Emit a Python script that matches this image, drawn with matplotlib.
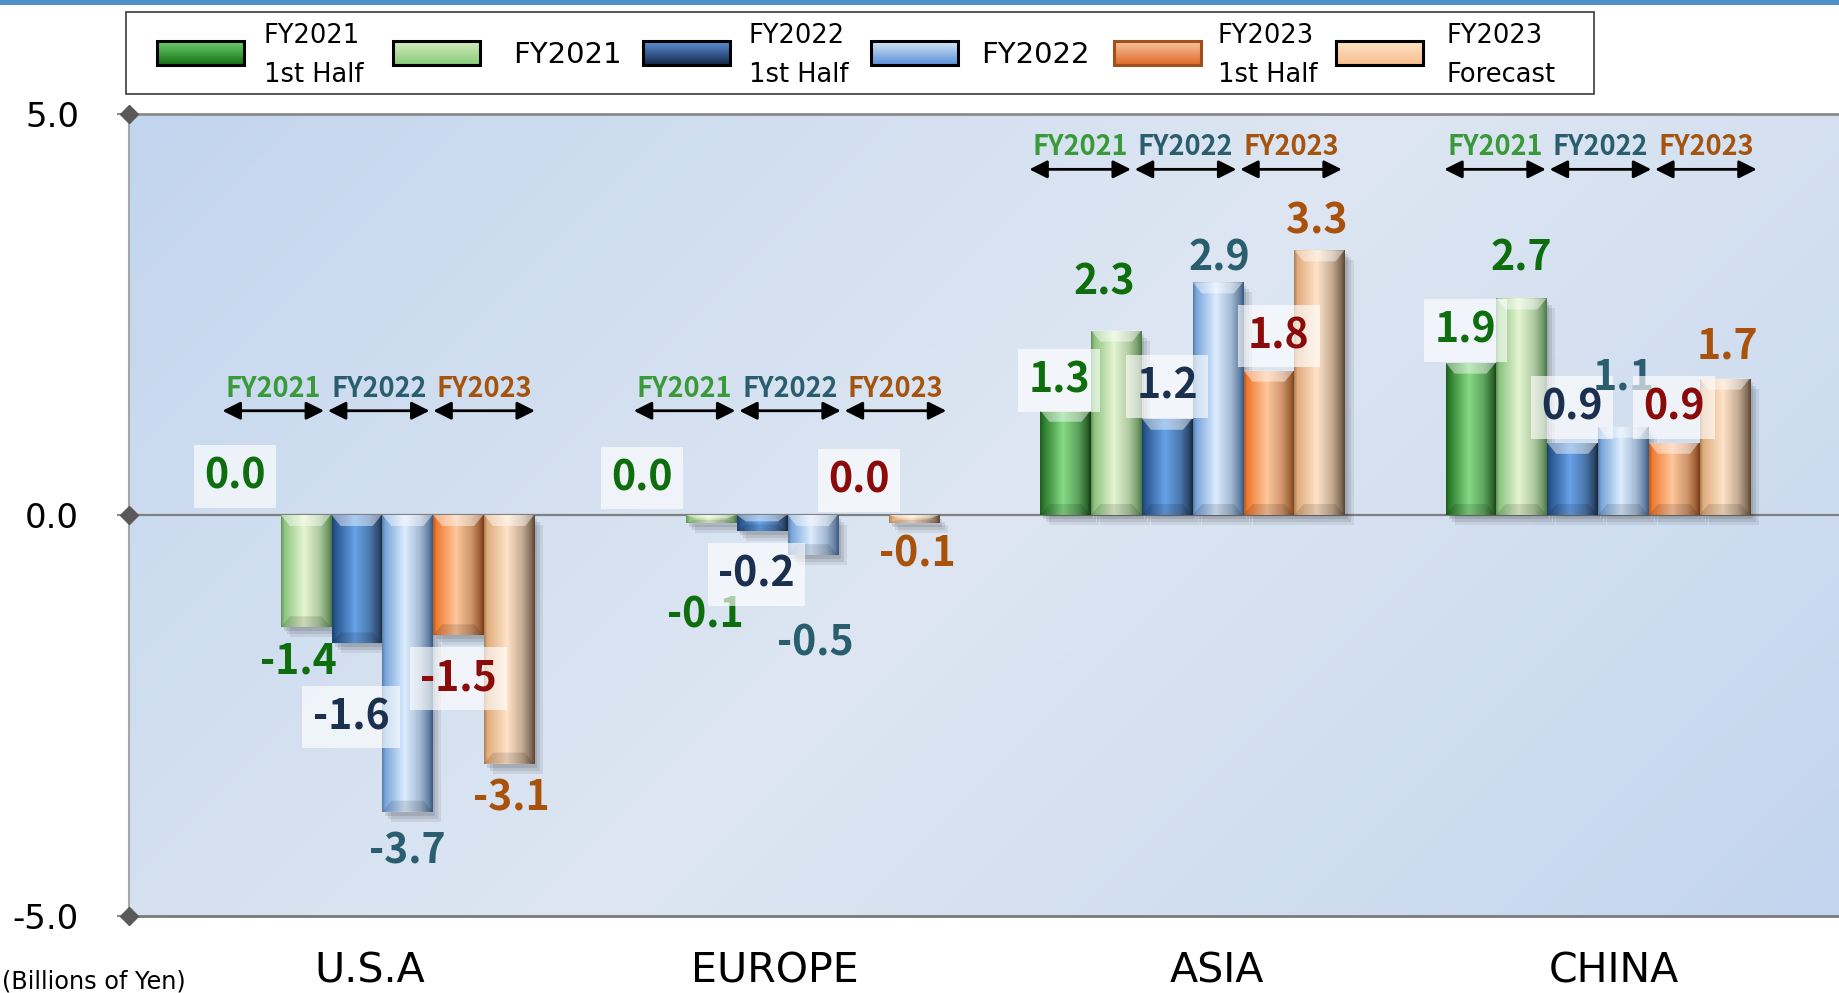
import numpy as np
import matplotlib
matplotlib.use("Agg")
import matplotlib.pyplot as plt
import matplotlib.transforms as mtransforms
from matplotlib.colors import to_rgb
from matplotlib.patches import Rectangle, Polygon, FancyArrowPatch

# ---------------- data (billions of yen) ----------------
regions = ["U.S.A", "EUROPE", "ASIA", "CHINA"]
fy2021_h1 = [0.0, 0.0, 1.3, 1.9]
fy2021_full = [-1.4, -0.1, 2.3, 2.7]
fy2022_h1 = [-1.6, -0.2, 1.2, 0.9]
fy2022_full = [-3.7, -0.5, 2.9, 1.1]
fy2023_h1 = [-1.5, 0.0, 1.8, 0.9]
fy2023_forecast = [-3.1, -0.1, 3.3, 1.7]
series_labels = ["FY2021\n1st Half", "FY2021", "FY2022\n1st Half",
                 "FY2022", "FY2023\n1st Half", "FY2023\nForecast"]
year_tags = ["FY2021", "FY2022", "FY2023"]
y_ticks = [-5.0, 0.0, 5.0]
unit_note = "(Billions of Yen)"

series_values = [fy2021_h1, fy2021_full, fy2022_h1,
                 fy2022_full, fy2023_h1, fy2023_forecast]

# ---------------- styling ----------------
BOLD = ["Noto Sans CJK JP", "DejaVu Sans"]
REG = ["DejaVu Sans"]

# bar face: (left edge, centre highlight, right edge)
bar_faces = [
    ("#2a7a2a", "#86da86", "#0f3d0f"),
    ("#8cc47e", "#e6f5d2", "#4a7a44"),
    ("#2a5690", "#66a2e8", "#18283f"),
    ("#7aa6dc", "#dcecfe", "#3a5a82"),
    ("#f07a30", "#ffc69c", "#7a3a12"),
    ("#e0ac7c", "#ffe3c8", "#5a4632"),
]
swatch_grad = [("#6fd06f", "#137013"), ("#d6ecc0", "#86cc78"),
               ("#5c92d8", "#15284a"), ("#d7e6f7", "#5b8fd8"),
               ("#f8c6a0", "#e06a28"), ("#fde3c8", "#f7be8c")]
swatch_edge = ["#000000", "#000000", "#000000", "#000000", "#a0501c", "#000000"]
label_colors = ["#0e6e0e", "#0e6e0e", "#1b2f4f", "#2a5e6e", "#8b0a0a", "#a8520c"]
label_boxed = [True, False, True, False, True, False]
tag_colors = ["#3a9a3a", "#2a5e6e", "#a5540f"]

# value-label placement: horizontal nudge (in bar widths) and vertical centre (data units)
label_dx = [[-0.40, -0.35, -0.12, -0.10],
            [-0.15, -0.11, -0.24, 0.00],
            [-0.11, -0.11, 0.00, 0.00],
            [0.00, 0.06, 0.04, 0.00],
            [0.00, -0.08, 0.20, 0.00],
            [0.05, 0.07, -0.06, 0.05]]
label_yc = [[0.50, 0.48, 1.70, 2.32],
            [-1.81, -1.23, 2.92, 3.22],
            [-2.50, -0.72, 1.62, 1.36],
            [-4.18, -1.58, 3.22, 1.74],
            [-2.02, 0.45, 2.25, 1.36],
            [-3.51, -0.47, 3.68, 2.12]]
tag_y = [1.30, 1.30, 4.31, 4.31]
tag_shift = [-0.14, -0.02, -0.21, -0.02]
region_nudge = [-0.03, -0.03, 0.06, 0.04]

W, H = 1840, 993
fig = plt.figure(figsize=(W / 100, H / 100), dpi=100)
fig.patch.set_facecolor("white")

ax_l, ax_r, ax_t, ax_b = 129, 1840, 114, 916
ax = fig.add_axes([ax_l / W, 1 - ax_b / H, (ax_r - ax_l) / W, (ax_b - ax_t) / H])
XL = (-0.6244, 3.598)
YL = (-5.0, 5.0)
ax.set_xlim(XL)
ax.set_ylim(YL)
ax.set_autoscale_on(False)

px_x = (XL[1] - XL[0]) / (ax_r - ax_l)
px_y = (YL[1] - YL[0]) / (ax_b - ax_t)

# plot-area diagonal gradient
gx = np.linspace(0, ax_r - ax_l, 400)
gy = np.linspace(0, ax_b - ax_t, 200)
GX, GY = np.meshgrid(gx, gy)
d = (GX + GY) / (gx[-1] + gy[-1])
k = np.abs(2 * d - 1)[..., None] ** 1.1
blue = np.array(to_rgb("#c2d5ee"))
light = np.array(to_rgb("#dde6f2"))
bg = light + (blue - light) * k
ax.imshow(bg, extent=(XL[0], XL[1], YL[0], YL[1]), origin="upper",
          aspect="auto", zorder=0, interpolation="bilinear")

ax.axhline(0, color="#808080", lw=1.6, zorder=2)


def mix(a, b, t):
    a, b = np.array(to_rgb(a)), np.array(to_rgb(b))
    return a + (b - a) * t


def shade_bar(rect, face):
    x0, w = rect.get_x(), rect.get_width()
    y0, h = rect.get_y(), rect.get_height()
    if abs(h) < 1e-9:
        return
    lo, hi = min(y0, y0 + h), max(y0, y0 + h)
    # soft drop shadow
    for ox, oy, a in [(3, -4, 0.10), (6, -7, 0.09), (9, -10, 0.07)]:
        ax.add_patch(Rectangle((x0 + ox * px_x, lo + oy * px_y), w, hi - lo,
                               fc="black", ec="none", alpha=a, zorder=2.5))
    cl, cc, cr = face
    pos = [0.0, 0.06, 0.45, 0.75, 0.93, 1.0]
    cols = np.array([mix(cl, "black", 0.25), to_rgb(cl), to_rgb(cc),
                     mix(cc, cr, 0.35), mix(cc, cr, 0.75), to_rgb(cr)])
    t = np.linspace(0, 1, 80)
    img = np.stack([np.interp(t, pos, cols[:, c]) for c in range(3)], axis=-1)[None, :, :]
    im = ax.imshow(img, extent=(x0, x0 + w, lo, hi), aspect="auto",
                   zorder=3.1, interpolation="bilinear")
    im.set_clip_path(rect)
    dh = min(11 * px_y, (hi - lo) * 0.4)
    ins = 0.18 * w
    ax.add_patch(Polygon([(x0, hi), (x0 + w, hi), (x0 + w - ins, hi - dh), (x0 + ins, hi - dh)],
                         closed=True, fc="white", ec="none", alpha=0.45, zorder=3.2))
    ax.add_patch(Polygon([(x0, lo), (x0 + w, lo), (x0 + w - ins, lo + dh), (x0 + ins, lo + dh)],
                         closed=True, fc="black", ec="none", alpha=0.12, zorder=3.2))


bw = 0.1254
group_x = np.arange(len(regions))
for i, vals in enumerate(series_values):
    xs = group_x + (i - 2.5) * bw
    bars = ax.bar(xs, vals, width=bw * 0.985, color=bar_faces[i][1],
                  linewidth=0, zorder=3)
    for rect in bars:
        shade_bar(rect, bar_faces[i])
    for j, v in enumerate(vals):
        lx = xs[j] + label_dx[i][j] * bw
        ly = label_yc[i][j] - 0.17
        txt = ax.text(lx, ly, f"{v:.1f}", ha="center", va="baseline",
                      fontsize=29.5, fontweight="bold", family=BOLD,
                      color=label_colors[i], zorder=6)
        if label_boxed[i]:
            txt.set_bbox(dict(boxstyle="square,pad=0.25", fc="white",
                              ec="none", alpha=0.65))

# fiscal-year spans over each group
for j in range(len(regions)):
    left = group_x[j] - 3 * bw
    for kk, tag in enumerate(year_tags):
        xs_ = left + (tag_shift[j] + 2.075 * kk) * bw
        xe_ = xs_ + 2.0 * bw
        ax.add_patch(FancyArrowPatch((xs_, tag_y[j]), (xe_, tag_y[j]),
                                     arrowstyle="<|-|>,head_length=0.6,head_width=0.3",
                                     mutation_scale=18, lw=2, color="black",
                                     shrinkA=0, shrinkB=0, zorder=6))
        ax.text((xs_ + xe_) / 2, tag_y[j] + 0.175, tag, ha="center", va="baseline",
                fontsize=19.5, fontweight="bold", family=BOLD,
                color=tag_colors[kk], zorder=6)

# region names below the plot
trans = mtransforms.blended_transform_factory(ax.transData, ax.transAxes)
for j, name in enumerate(regions):
    ax.text(group_x[j] + region_nudge[j], -0.0823, name, transform=trans,
            ha="center", va="baseline", fontsize=29.6, family=REG,
            color="black", clip_on=False)

# axes frame and ticks
ax.set_xticks([])
ax.set_yticks(y_ticks)
ax.set_yticklabels([f"{v:.1f}" for v in y_ticks], fontsize=24.5, family=REG)
ax.tick_params(axis="y", length=9, width=1.5, color="#8c8c8c", pad=27)
for side, col, lw in [("top", "#8a8a8a", 2.0), ("bottom", "#7a7a7a", 2.0),
                      ("left", "#a6a6a6", 1.5)]:
    ax.spines[side].set_color(col)
    ax.spines[side].set_linewidth(lw)
ax.spines["right"].set_visible(False)
ax.plot([XL[0]] * len(y_ticks), y_ticks, "D", ms=9, color="#595959",
        clip_on=False, zorder=10)

# ---------------- page furniture: header rule, legend, unit note ----------------
ov = fig.add_axes([0, 0, 1, 1], zorder=5)
ov.set_axis_off()
ov.add_patch(Rectangle((0, 0), W, 5, fc="#4f8fcc", ec="none"))
ov.add_patch(Rectangle((126, 12), 1594 - 126, 94 - 12, fc="white",
                       ec="#3a3a3a", lw=1.2))

swatch_left = [157, 393, 643, 871, 1114, 1336]
text_left = [264, 513, 749, 981, 1218, 1447]
sw_w, sw_top, sw_bot = 87, 41, 65
for i, lab in enumerate(series_labels):
    top_c, bot_c = swatch_grad[i]
    tt = np.linspace(0, 1, 40)[:, None]
    grad = (np.array(to_rgb(top_c)) * (1 - tt) + np.array(to_rgb(bot_c)) * tt)[:, None, :]
    x0 = swatch_left[i]
    ov.imshow(grad, extent=(x0, x0 + sw_w, sw_bot, sw_top), origin="upper",
              aspect="auto", interpolation="bilinear", zorder=2)
    ov.add_patch(Rectangle((x0, sw_top), sw_w, sw_bot - sw_top, fc="none",
                           ec=swatch_edge[i], lw=2.2, zorder=3))
    lines = lab.split("\n")
    if len(lines) == 2:
        ov.text(text_left[i], 43, lines[0], ha="left", va="baseline",
                fontsize=18.5, family=REG, color="black")
        ov.text(text_left[i], 82, lines[1], ha="left", va="baseline",
                fontsize=18.5, family=REG, color="black")
    else:
        ov.text(text_left[i], 63, lines[0], ha="left", va="baseline",
                fontsize=21, family=REG, color="black")

ov.text(2, 989, unit_note, ha="left", va="baseline", fontsize=17.3,
        family=REG, color="black")
ov.set_xlim(0, W)
ov.set_ylim(H, 0)

fig.savefig("out.png", dpi=100, facecolor="white")
